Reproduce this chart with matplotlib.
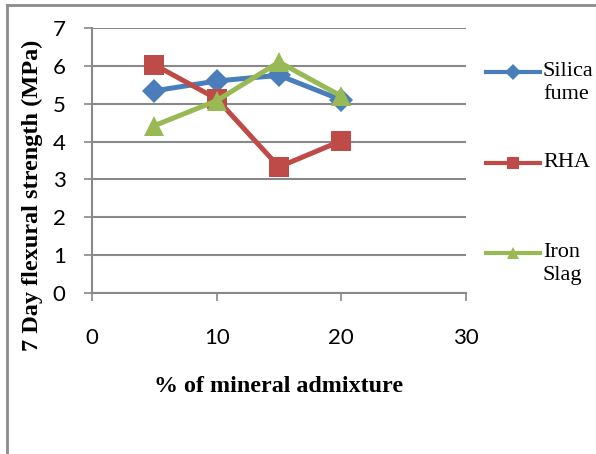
import matplotlib.pyplot as plt
from matplotlib.lines import Line2D

# % mineral admixture vs 7 day flexural strength
admixture = [5, 10, 15, 20]
silica_fume = [5.34, 5.6, 5.75, 5.1]
rha = [6.03, 5.13, 3.33, 4.02]
iron_slag = [4.42, 5.08, 6.1, 5.2]

series = [
    ('Silica\nfume', silica_fume, '#4A7EBB', 'D', 12, 8),
    ('RHA', rha, '#BE4B48', 's', 14, 8),
    ('Iron\nSlag', iron_slag, '#98B954', '^', 15, 9),
]

tick_font = 'Lato'
serif = 'Liberation Serif'
grid_col = '#898989'

fig = plt.figure(figsize=(5.96, 4.54), dpi=100)
ax = fig.add_axes([92 / 596, 1 - 293 / 454, 374 / 596, 265 / 454])

for name, vals, col, mk, ms, lms in series:
    ax.plot(admixture, vals, color=col, lw=3.6, marker=mk, markersize=ms,
            markeredgewidth=0, solid_capstyle='round')

ax.set_xlim(0, 30)
ax.set_ylim(0, 7)
ax.set_xticks([0, 10, 20, 30])
ax.set_yticks(range(0, 8))
ax.grid(axis='y', color=grid_col, lw=1.5)
ax.set_axisbelow(True)

for s in ['top', 'right']:
    ax.spines[s].set_visible(False)
for s in ['left', 'bottom']:
    ax.spines[s].set_color(grid_col)
    ax.spines[s].set_linewidth(1.5)

ax.tick_params(axis='both', direction='out', length=6, width=1.2, color=grid_col,
               labelsize=16, labelcolor='black')
ax.tick_params(axis='y', pad=13)
ax.tick_params(axis='x', pad=19)
for lbl in ax.get_xticklabels() + ax.get_yticklabels():
    lbl.set_family(tick_font)

ax.set_xlabel('% of mineral admixture', family=serif, fontweight='bold',
              fontsize=17.3, labelpad=20)
ax.set_ylabel('7 Day flexural strength (MPa)', family=serif, fontweight='bold',
              fontsize=17.5)
ax.yaxis.set_label_coords(-0.131, 0.37)

# legend on the right, one entry per series
legend_y = [72, 163, 253]
for (name, vals, col, mk, ms, lms), y in zip(series, legend_y):
    yf = 1 - y / 454
    fig.add_artist(Line2D([486 / 596, 540 / 596], [yf, yf], color=col, lw=3.0))
    fig.add_artist(Line2D([513 / 596], [yf], color=col, marker=mk,
                          markersize=lms, markeredgewidth=0))
    fig.text(543 / 596, yf + 10 / 454, name, family=serif, fontsize=16,
             va='top', ha='left', linespacing=1.3)

# outer chart frame (top and left edges)
fig.add_artist(Line2D([7 / 596, 1], [1 - 4.5 / 454, 1 - 4.5 / 454],
                      color='#8c8c8c', lw=2))
fig.add_artist(Line2D([7 / 596, 7 / 596], [0, 1 - 4.5 / 454],
                      color='#8c8c8c', lw=2))

fig.savefig('out.png', dpi=100)
